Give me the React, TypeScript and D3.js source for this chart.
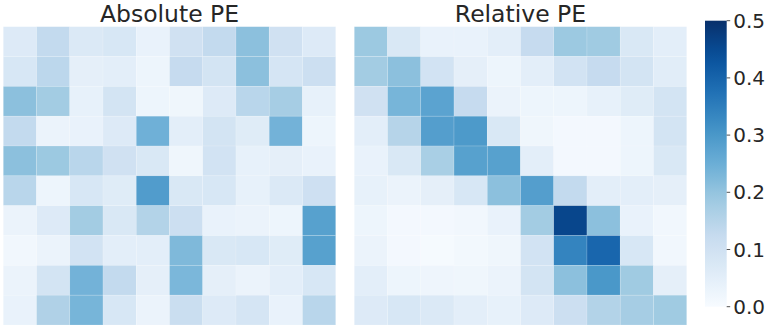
import React from "react";
import * as d3 from "d3";

// heatmap values (rows top -> bottom)
const absolutePE: number[][] = [
  [0.065, 0.13, 0.07, 0.08, 0.035, 0.1, 0.13, 0.21, 0.1, 0.065],
  [0.08, 0.14, 0.045, 0.05, 0.025, 0.125, 0.09, 0.21, 0.085, 0.11],
  [0.21, 0.18, 0.04, 0.09, 0.025, 0.02, 0.065, 0.145, 0.175, 0.04],
  [0.13, 0.03, 0.035, 0.065, 0.245, 0.05, 0.09, 0.06, 0.24, 0.025],
  [0.21, 0.19, 0.145, 0.1, 0.075, 0.02, 0.095, 0.04, 0.045, 0.035],
  [0.145, 0.025, 0.08, 0.06, 0.29, 0.075, 0.08, 0.04, 0.07, 0.105],
  [0.03, 0.065, 0.18, 0.075, 0.155, 0.11, 0.035, 0.03, 0.025, 0.28],
  [0.015, 0.03, 0.095, 0.05, 0.05, 0.225, 0.075, 0.08, 0.06, 0.28],
  [0.03, 0.09, 0.24, 0.13, 0.045, 0.23, 0.045, 0.03, 0.05, 0.08],
  [0.035, 0.16, 0.235, 0.08, 0.03, 0.115, 0.065, 0.085, 0.035, 0.145],
];

const relativePE: number[][] = [
  [0.19, 0.075, 0.035, 0.035, 0.05, 0.125, 0.19, 0.185, 0.075, 0.05],
  [0.18, 0.21, 0.095, 0.045, 0.025, 0.05, 0.095, 0.125, 0.09, 0.055],
  [0.1, 0.235, 0.275, 0.125, 0.03, 0.025, 0.025, 0.04, 0.06, 0.09],
  [0.05, 0.15, 0.285, 0.295, 0.075, 0.02, 0.01, 0.01, 0.025, 0.09],
  [0.035, 0.075, 0.17, 0.28, 0.28, 0.05, 0.01, 0.01, 0.025, 0.075],
  [0.04, 0.03, 0.045, 0.08, 0.21, 0.285, 0.13, 0.05, 0.05, 0.045],
  [0.025, 0.01, 0.01, 0.015, 0.035, 0.18, 0.458, 0.21, 0.035, 0.015],
  [0.03, 0.01, 0.005, 0.012, 0.02, 0.095, 0.339, 0.396, 0.08, 0.015],
  [0.05, 0.025, 0.022, 0.02, 0.03, 0.09, 0.21, 0.3, 0.185, 0.045],
  [0.065, 0.08, 0.07, 0.05, 0.04, 0.065, 0.11, 0.155, 0.175, 0.185],
];

const panelTitles = ["Absolute PE", "Relative PE"];
const colorbarTicks = [0.0, 0.1, 0.2, 0.3, 0.4, 0.5];

const W = 770;
const H = 329;
const gridTop = 26.7;
const gridBottom = 325;
const panelLefts = [3.3, 354.3];
const panelWidth = 332.4;
const cbar = { x: 705, w: 21.7, top: 20.7, bottom: 306.7 };
const textColor = "#262626";

// matplotlib "Blues" = linear segments through the 9 ColorBrewer colours
const blues = d3.schemeBlues[9] as string[];
const bluesRamp = d3
  .scaleLinear<string>()
  .domain(d3.range(9).map((i) => i / 8))
  .range(blues)
  .interpolate(d3.interpolateRgb);

const color = (v: number) => bluesRamp(Math.max(0, Math.min(1, v / 0.5)));

const Heatmap = ({ values, left, title }: { values: number[][]; left: number; title: string }) => {
  const idx = d3.range(10).map(String);
  const x = d3.scaleBand().domain(idx).range([left, left + panelWidth]);
  const y = d3.scaleBand().domain(idx).range([gridTop, gridBottom]);
  return (
    <g>
      {values.map((row, r) =>
        row.map((v, c) => (
          <rect
            key={`${r}-${c}`}
            x={x(String(c))}
            y={y(String(r))}
            width={x.bandwidth()}
            height={y.bandwidth()}
            fill={color(v)}
            stroke="#ffffff"
            strokeOpacity={0.25}
            strokeWidth={0.6}
          />
        ))
      )}
      <text
        x={left + panelWidth / 2}
        y={21.7}
        textAnchor="middle"
        fill={textColor}
        fontSize={23.5}
      >
        {title}
      </text>
    </g>
  );
};

const App = () => {
  const cy = d3.scaleLinear().domain([0, 0.5]).range([cbar.bottom, cbar.top]);
  const stops = d3.range(0, 1.0001, 0.05);

  return (
    <svg
      width={W}
      height={H}
      style={{ position: "absolute", left: 0, top: 0, fontFamily: "DejaVu Sans, sans-serif", background: "#fff" }}
    >
      <defs>
        <linearGradient id="cbar-grad" x1="0" y1="1" x2="0" y2="0">
          {stops.map((t) => (
            <stop key={t} offset={`${t * 100}%`} stopColor={bluesRamp(t)} />
          ))}
        </linearGradient>
      </defs>

      <Heatmap values={absolutePE} left={panelLefts[0]} title={panelTitles[0]} />
      <Heatmap values={relativePE} left={panelLefts[1]} title={panelTitles[1]} />

      {/* colorbar */}
      <rect x={cbar.x} y={cbar.top} width={cbar.w} height={cbar.bottom - cbar.top} fill="url(#cbar-grad)" />
      {colorbarTicks.map((t) => (
        <g key={t} transform={`translate(${cbar.x + cbar.w},${cy(t)})`}>
          <line x1={0} x2={3.5} stroke={textColor} strokeWidth={0.8} />
          <text x={6.5} dy="0.35em" fill={textColor} fontSize={20}>
            {t.toFixed(1)}
          </text>
        </g>
      ))}
    </svg>
  );
};

export default App;
